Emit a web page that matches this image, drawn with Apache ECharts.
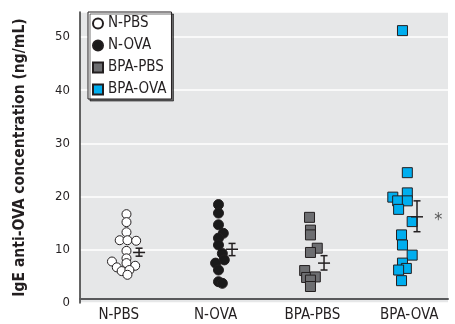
<!DOCTYPE html>
<html>
<head>
<meta charset="utf-8">
<script src="https://cdn.jsdelivr.net/npm/echarts@6/dist/echarts.min.js"></script>
<style>
    html, body { margin: 0; padding: 0; background: #fff; }
    #chart { width: 455px; height: 324px; }
</style>
</head>
<body>
<div id="chart"></div>
<script>
var categories = ['N-PBS', 'N-OVA', 'BPA-PBS', 'BPA-OVA'];
var yTicks = [0, 10, 20, 30, 40, 50];

// [x position (group index + jitter), IgE ng/mL]
var nPbs = [[1.08, 16.7], [1.08, 15.2], [1.08, 13.3], [1.01, 11.8], [1.09, 11.8], [1.18, 11.7],
    [1.08, 9.8], [1.08, 8.4], [0.93, 7.8], [1.08, 7.5], [1.17, 7.0], [0.98, 6.7], [1.03, 6.0],
    [1.11, 6.2], [1.09, 5.3]];
var nOva = [[2.03, 18.5], [2.03, 16.9], [2.03, 14.7], [2.08, 13.1], [2.03, 12.2], [2.03, 10.9],
    [2.07, 9.3], [2.09, 8.1], [2.00, 7.5], [2.03, 6.2], [2.03, 4.0], [2.07, 3.7]];
var bpaPbs = [[2.97, 16.1], [2.98, 13.7], [2.98, 12.8], [3.05, 10.3], [2.98, 9.5], [2.92, 6.1],
    [2.94, 4.8], [3.03, 4.9], [2.98, 4.3], [2.98, 3.1]];
var bpaOva = [[3.93, 51.2], [3.98, 24.5], [3.98, 20.7], [3.83, 19.9], [3.88, 19.2], [3.98, 19.2],
    [3.89, 17.6], [4.03, 15.3], [3.92, 12.8], [3.93, 10.9], [4.03, 9.0], [3.93, 7.5], [3.97, 6.5],
    [3.89, 6.2], [3.92, 4.2]];

// [x, mean, mean - SE, mean + SE]
var meanSe = [[1.21, 9.5, 8.8, 10.3], [2.17, 10.1, 8.9, 11.2], [3.12, 7.5, 6.2, 8.9], [4.08, 16.2, 13.4, 19.2]];
var sigMarks = [[4.30, 16.3]];

var FONT = '"DejaVu Sans Condensed", "Liberation Sans Narrow", "Arial Narrow", sans-serif';
var INK = '#231f20';

var chart = echarts.init(document.getElementById('chart'), null, { renderer: 'canvas' });

function groupSeries(name, data, symbol, size, fill) {
    return {
        name: name,
        type: 'scatter',
        data: data,
        symbol: symbol,
        symbolSize: size,
        itemStyle: { color: fill, borderColor: INK, borderWidth: 1, opacity: 1 },
        emphasis: { disabled: true },
        z: 3
    };
}

var option = {
    animation: false,
    grid: {
        left: 80, right: 7, top: 12, bottom: 21,
        show: true, backgroundColor: '#e6e7e8', borderWidth: 0
    },
    legend: {
        data: categories,
        orient: 'vertical',
        left: 88, top: 12,
        padding: [4, 5, 2, 4],
        itemGap: 7,
        itemWidth: 10, itemHeight: 10,
        backgroundColor: '#fff',
        borderColor: INK, borderWidth: 1,
        shadowColor: 'rgba(0,0,0,0.55)', shadowOffsetX: 2, shadowOffsetY: 2, shadowBlur: 0,
        textStyle: { fontFamily: FONT, fontSize: 15, color: INK, lineHeight: 14 },
        selectedMode: false
    },
    xAxis: {
        type: 'value',
        min: 0.6, max: 4.4, interval: 0.2,
        offset: -4,
        axisLine: { onZero: false, lineStyle: { color: '#58595b', width: 2 } },
        axisTick: { show: false },
        splitLine: { show: false },
        axisLabel: {
            margin: 9,
            fontFamily: FONT, fontSize: 15, color: INK,
            showMinLabel: false, showMaxLabel: false,
            formatter: function (v) {
                var r = Math.round(v);
                return Math.abs(v - r) < 1e-6 && r >= 1 && r <= categories.length ? categories[r - 1] : '';
            }
        }
    },
    yAxis: {
        type: 'value',
        min: yTicks[0], max: 54.7, interval: 10,
        name: 'IgE anti-OVA concentration (ng/mL)',
        nameLocation: 'middle',
        nameGap: 52,
        nameTextStyle: { fontFamily: FONT, fontSize: 15.5, fontWeight: 'bold', color: INK },
        axisLine: { show: true, lineStyle: { color: '#333', width: 1.5 } },
        axisTick: { show: false },
        splitLine: { lineStyle: { color: '#fff', width: 1.5 } },
        axisLabel: {
            margin: 10,
            fontFamily: FONT, fontSize: 13, color: INK,
            showMaxLabel: false
        }
    },
    series: [
        groupSeries('N-PBS', nPbs, 'circle', 9, '#fff'),
        groupSeries('N-OVA', nOva, 'circle', 10, '#1a1a1a'),
        groupSeries('BPA-PBS', bpaPbs, 'rect', 10, '#6d6e71'),
        groupSeries('BPA-OVA', bpaOva, 'rect', 10, '#00aeef'),
        {
            name: 'mean',
            type: 'custom',
            data: meanSe,
            z: 4,
            renderItem: function (params, api) {
                var mid = api.coord([api.value(0), api.value(1)]);
                var lo = api.coord([api.value(0), api.value(2)]);
                var hi = api.coord([api.value(0), api.value(3)]);
                var st = { stroke: INK, lineWidth: 1.5 };
                return {
                    type: 'group',
                    children: [
                        { type: 'line', shape: { x1: lo[0], y1: lo[1], x2: hi[0], y2: hi[1] }, style: st },
                        { type: 'line', shape: { x1: lo[0] - 3.5, y1: lo[1], x2: lo[0] + 3.5, y2: lo[1] }, style: st },
                        { type: 'line', shape: { x1: hi[0] - 3.5, y1: hi[1], x2: hi[0] + 3.5, y2: hi[1] }, style: st },
                        { type: 'line', shape: { x1: mid[0] - 6, y1: mid[1], x2: mid[0] + 6, y2: mid[1] }, style: st }
                    ]
                };
            }
        },
        {
            name: 'sig',
            type: 'scatter',
            data: sigMarks,
            symbolSize: 1,
            itemStyle: { color: 'rgba(0,0,0,0)' },
            label: {
                show: true, position: 'inside', formatter: '*',
                fontFamily: FONT, fontSize: 18, color: '#333', offset: [0, 4]
            },
            z: 4
        }
    ]
};

chart.setOption(option);
</script>
</body>
</html>
